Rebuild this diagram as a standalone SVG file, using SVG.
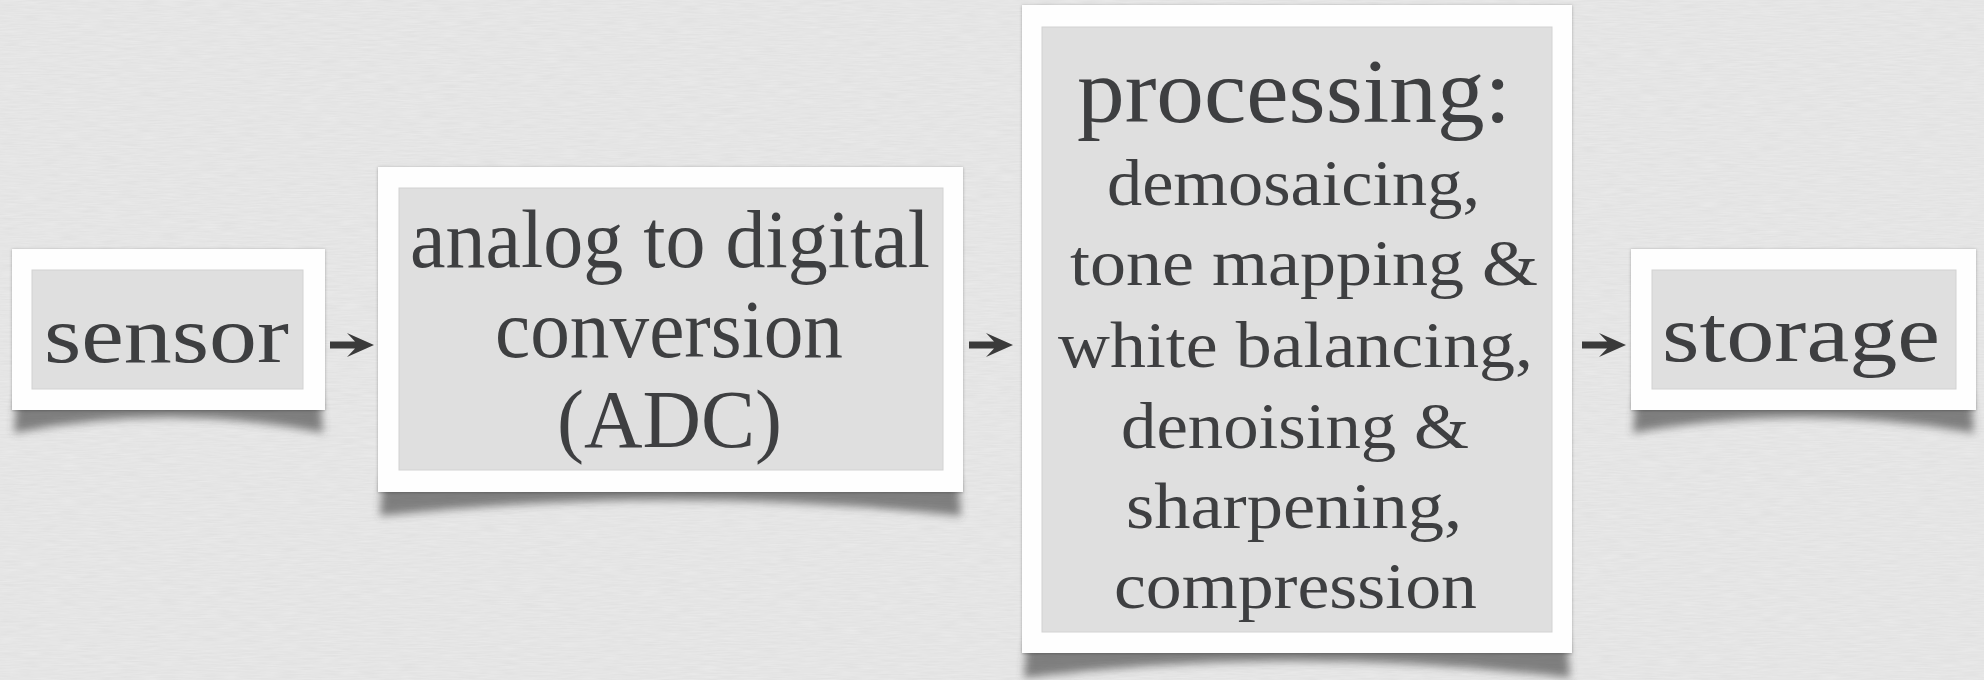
<svg xmlns="http://www.w3.org/2000/svg" xmlns:xlink="http://www.w3.org/1999/xlink" width="1984" height="680" viewBox="0 0 1984 680">
  <defs>
    <style>
      .bg { fill: #ebebeb; }
      .frame { fill: #fefefe; filter: url(#edge); }
      .panel { fill: #dfdfdf; stroke: #d2d2d2; stroke-width: 1; }
      .curl { fill: #3a3a3a; opacity: 0.6; filter: url(#blur); }
      .lbl { font-family: "Liberation Serif", "Times New Roman", serif; fill: #3e3f41; }
      .big { font-size: 80px; }
      .adc { font-size: 82px; }
      .title { font-size: 90px; }
      .sub { font-size: 66px; }
      .arrow { fill: #3a3a3a; }
    </style>
    <filter id="blur" x="-10%" y="-100%" width="120%" height="300%">
      <feGaussianBlur stdDeviation="4"/>
    </filter>
    <filter id="edge" x="-5%" y="-5%" width="110%" height="110%">
      <feDropShadow dx="0" dy="0.5" stdDeviation="1.6" flood-color="#000" flood-opacity="0.3"/>
    </filter>
    <filter id="paper" x="0" y="0" width="100%" height="100%">
      <feTurbulence type="fractalNoise" baseFrequency="0.05 0.7" numOctaves="2" seed="4" result="n"/>
      <feColorMatrix in="n" type="matrix" values="0 0 0 0 0  0 0 0 0 0  0 0 0 0 0  0 0 0 0.05 0"/>
    </filter>
    <path id="arr" d="M0,-3.5 H25 L17,-12 L44,0 L17,12 L25,3.5 H0 Z"/>
  </defs>

  <rect class="bg" x="0" y="0" width="1984" height="680"/>
  <rect x="0" y="0" width="1984" height="680" filter="url(#paper)"/>

  <g id="connectors">
    <use xlink:href="#arr" class="arrow" transform="translate(330,345)"/>
    <use xlink:href="#arr" class="arrow" transform="translate(969,345)"/>
    <use xlink:href="#arr" class="arrow" transform="translate(1582,345)"/>
  </g>

  <g id="sensor">
    <path class="curl" d="M17,396 H320 L323,433 Q168,402 14,433 Z"/>
    <rect class="frame" x="12" y="249" width="313" height="161"/>
    <rect class="panel" x="32" y="270" width="271" height="119"/>
    <text class="lbl big" x="44" y="362" textLength="245" lengthAdjust="spacingAndGlyphs">sensor</text>
  </g>

  <g id="adc">
    <path class="curl" d="M383,478 H958 L961,516 Q670,484 380,516 Z"/>
    <rect class="frame" x="378" y="167" width="585" height="325"/>
    <rect class="panel" x="399" y="188" width="544" height="282"/>
    <text class="lbl adc" x="410" y="267" textLength="520" lengthAdjust="spacingAndGlyphs">analog to digital</text>
    <text class="lbl adc" x="495" y="357" textLength="348" lengthAdjust="spacingAndGlyphs">conversion</text>
    <text class="lbl adc" x="557" y="447" textLength="225" lengthAdjust="spacingAndGlyphs">(ADC)</text>
  </g>

  <g id="processing">
    <path class="curl" d="M1027,639 H1567 L1570,678 Q1297,644 1024,678 Z"/>
    <rect class="frame" x="1022" y="5" width="550" height="648"/>
    <rect class="panel" x="1042" y="27" width="510" height="605"/>
    <text class="lbl title" x="1077" y="122" textLength="434" lengthAdjust="spacingAndGlyphs">processing:</text>
    <text class="lbl sub" x="1107" y="205" textLength="373" lengthAdjust="spacingAndGlyphs">demosaicing,</text>
    <text class="lbl sub" x="1070" y="285" textLength="468" lengthAdjust="spacingAndGlyphs">tone mapping &amp;</text>
    <text class="lbl sub" x="1058" y="367" textLength="475" lengthAdjust="spacingAndGlyphs">white balancing,</text>
    <text class="lbl sub" x="1121" y="448" textLength="348" lengthAdjust="spacingAndGlyphs">denoising &amp;</text>
    <text class="lbl sub" x="1126" y="528" textLength="336" lengthAdjust="spacingAndGlyphs">sharpening,</text>
    <text class="lbl sub" x="1114" y="608" textLength="363" lengthAdjust="spacingAndGlyphs">compression</text>
  </g>

  <g id="storage">
    <path class="curl" d="M1636,396 H1971 L1974,433 Q1803,402 1633,433 Z"/>
    <rect class="frame" x="1631" y="249" width="345" height="161"/>
    <rect class="panel" x="1652" y="270" width="304" height="119"/>
    <text class="lbl big" x="1662" y="361" textLength="278" lengthAdjust="spacingAndGlyphs">storage</text>
  </g>
</svg>
